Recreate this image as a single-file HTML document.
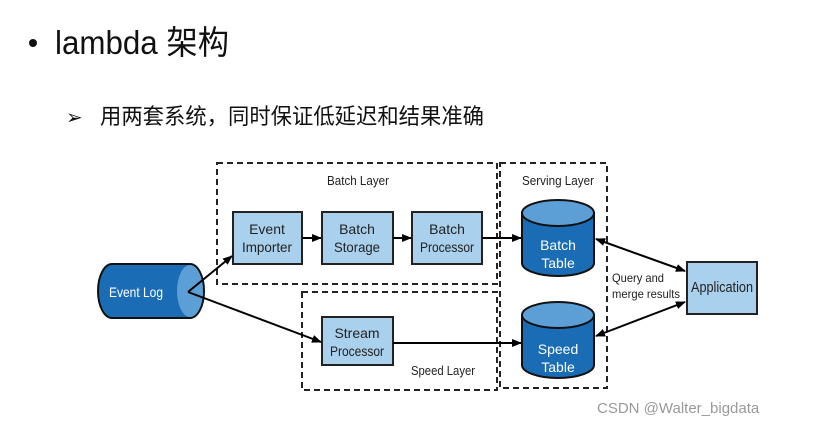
<!DOCTYPE html>
<html><head><meta charset="utf-8"><style>
html,body{margin:0;padding:0;background:#fff;width:814px;height:427px;overflow:hidden}
</style></head><body>
<svg width="814" height="427" viewBox="0 0 814 427" xmlns="http://www.w3.org/2000/svg">
<defs>
<marker id="ah" markerWidth="10" markerHeight="10" refX="9" refY="5" orient="auto" markerUnits="userSpaceOnUse"><path d="M0,1 L10,5 L0,9 Z" fill="#000"/></marker>
<marker id="as" markerWidth="10" markerHeight="10" refX="1" refY="5" orient="auto" markerUnits="userSpaceOnUse"><path d="M10,1 L0,5 L10,9 Z" fill="#000"/></marker>
</defs>
<circle cx="33" cy="43" r="4" fill="#111"/>
<text x="55" y="54" font-family="Liberation Sans, 'Noto Sans CJK SC', sans-serif" font-size="33" fill="#111" textLength="174" lengthAdjust="spacingAndGlyphs">lambda 架构</text>
<text x="66" y="124" font-family="'DejaVu Sans', sans-serif" font-size="20" fill="#111">➢</text>
<text x="100" y="124" font-family="Liberation Sans, 'Noto Sans CJK SC', sans-serif" font-size="22" fill="#111" textLength="384" lengthAdjust="spacingAndGlyphs">用两套系统，同时保证低延迟和结果准确</text>

<g fill="none" stroke="#222" stroke-width="2" stroke-dasharray="6,4">
<rect x="217" y="163" width="280" height="121"/>
<rect x="302" y="292" width="195" height="98"/>
<rect x="500" y="163" width="107" height="225"/>
</g>
<g font-family="Liberation Sans, sans-serif" font-size="13" fill="#222" text-anchor="middle">
<text x="358" y="185" textLength="62" lengthAdjust="spacingAndGlyphs">Batch Layer</text>
<text x="443" y="375" textLength="64" lengthAdjust="spacingAndGlyphs">Speed Layer</text>
<text x="558" y="185" textLength="72" lengthAdjust="spacingAndGlyphs">Serving Layer</text>
</g>

<g stroke="#222" stroke-width="2" fill="#a9d0ec">
<rect x="233" y="212" width="69" height="52"/>
<rect x="322" y="212" width="71" height="52"/>
<rect x="412" y="212" width="70" height="52"/>
<rect x="322" y="317" width="71" height="48"/>
<rect x="687" y="262" width="70" height="52"/>
</g>
<g font-family="Liberation Sans, sans-serif" font-size="14" fill="#222" text-anchor="middle">
<text x="267" y="234">Event</text><text x="267" y="252" textLength="50" lengthAdjust="spacingAndGlyphs">Importer</text>
<text x="357" y="234">Batch</text><text x="357" y="252" textLength="46" lengthAdjust="spacingAndGlyphs">Storage</text>
<text x="447" y="234">Batch</text><text x="447" y="252" textLength="54" lengthAdjust="spacingAndGlyphs">Processor</text>
<text x="357" y="338">Stream</text><text x="357" y="356" textLength="54" lengthAdjust="spacingAndGlyphs">Processor</text>
<text x="722" y="292" font-size="15" textLength="62" lengthAdjust="spacingAndGlyphs">Application</text>
</g>

<path d="M112,264 L190,264 A14,27 0 0 1 190,318 L112,318 A14,27 0 0 1 112,264 Z" fill="#1a6cb4" stroke="#111" stroke-width="2"/>
<ellipse cx="190" cy="291" rx="13" ry="26" fill="#5b9fd6"/>
<text x="136" y="297" font-family="Liberation Sans, sans-serif" font-size="14" fill="#fff" text-anchor="middle" textLength="54" lengthAdjust="spacingAndGlyphs">Event Log</text>

<path d="M522,213 L522,263 A36,13 0 0 0 594,263 L594,213 Z" fill="#1a6cb4" stroke="#111" stroke-width="2"/>
<ellipse cx="558" cy="213" rx="36" ry="13" fill="#5b9fd6" stroke="#111" stroke-width="2"/>
<text x="558" y="250" font-family="Liberation Sans, sans-serif" font-size="14" fill="#fff" text-anchor="middle">Batch</text>
<text x="558" y="268" font-family="Liberation Sans, sans-serif" font-size="14" fill="#fff" text-anchor="middle">Table</text>
<path d="M522,315 L522,365 A36,13 0 0 0 594,365 L594,315 Z" fill="#1a6cb4" stroke="#111" stroke-width="2"/>
<ellipse cx="558" cy="315" rx="36" ry="13" fill="#5b9fd6" stroke="#111" stroke-width="2"/>
<text x="558" y="354" font-family="Liberation Sans, sans-serif" font-size="14" fill="#fff" text-anchor="middle">Speed</text>
<text x="558" y="372" font-family="Liberation Sans, sans-serif" font-size="14" fill="#fff" text-anchor="middle">Table</text>

<g stroke="#000" stroke-width="2" fill="none">
<line x1="188" y1="292" x2="232" y2="256" marker-end="url(#ah)"/>
<line x1="188" y1="292" x2="321" y2="342" marker-end="url(#ah)"/>
<line x1="302" y1="238" x2="321" y2="238" marker-end="url(#ah)"/>
<line x1="393" y1="238" x2="411" y2="238" marker-end="url(#ah)"/>
<line x1="482" y1="238" x2="521" y2="238" marker-end="url(#ah)"/>
<line x1="393" y1="343" x2="521" y2="343" marker-end="url(#ah)"/>
<line x1="596" y1="239" x2="685" y2="271" marker-start="url(#as)" marker-end="url(#ah)"/>
<line x1="596" y1="336" x2="685" y2="302" marker-start="url(#as)" marker-end="url(#ah)"/>
</g>
<g font-family="Liberation Sans, sans-serif" font-size="12" fill="#222">
<text x="612" y="282" textLength="52" lengthAdjust="spacingAndGlyphs">Query and</text>
<text x="612" y="298" textLength="68" lengthAdjust="spacingAndGlyphs">merge results</text>
</g>
<text x="597" y="413" font-family="Liberation Sans, sans-serif" font-size="15" fill="#999">CSDN @Walter_bigdata</text>
</svg>
</body></html>
